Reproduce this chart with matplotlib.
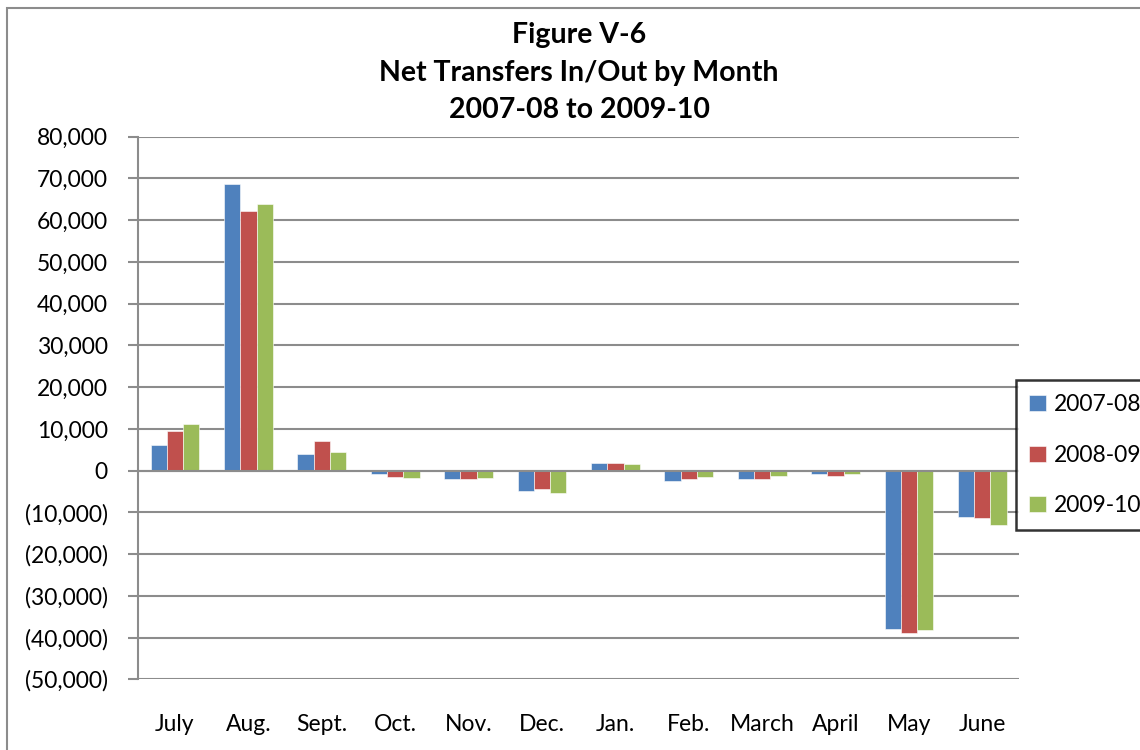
import matplotlib
matplotlib.use('Agg')
import matplotlib.pyplot as plt
import numpy as np
from matplotlib.ticker import FuncFormatter, MultipleLocator
from matplotlib.patches import Rectangle

# 月份和三年的净转入/转出数据
months = ['July', 'Aug.', 'Sept.', 'Oct.', 'Nov.', 'Dec.', 'Jan.', 'Feb.', 'March', 'April', 'May', 'June']
series_names = ['2007-08', '2008-09', '2009-10']
y2007 = [6200, 68600, 4000, -800, -1900, -5000, 1800, -2600, -1900, -900, -38000, -11200]
y2008 = [9400, 62300, 7200, -1500, -1900, -4400, 1800, -1900, -1900, -1200, -39000, -11400]
y2009 = [11100, 63800, 4400, -1800, -1800, -5300, 1700, -1500, -1400, -800, -38300, -13000]
colors = ['#4F81BD', '#C0504D', '#9BBB59']

plt.rcParams['font.family'] = ['Lato', 'DejaVu Sans']

fig = plt.figure(figsize=(11.4, 7.5), dpi=100)
ax = fig.add_axes([0.1213, 0.0943, 0.7726, 0.7234])

x = np.arange(len(months))
w = 0.222
for i, (vals, name) in enumerate(zip([y2007, y2008, y2009], series_names)):
    ax.bar(x + (i - 1) * w, vals, width=w, color=colors[i], label=name,
           edgecolor='white', linewidth=0.4, zorder=3)

ax.set_xlim(-0.5, len(months) - 0.5)
ax.set_ylim(-50000, 80000)
ax.yaxis.set_major_locator(MultipleLocator(10000))


def fmt(v, pos):
    if v == 0:
        return '0'
    if v < 0:
        return '({:,.0f})'.format(-v)
    return '{:,.0f}'.format(v)


ax.yaxis.set_major_formatter(FuncFormatter(fmt))
ax.grid(axis='y', color='#8C8C8C', linewidth=1.5, zorder=0)
ax.axhline(0, color='#8C8C8C', linewidth=1.5, zorder=4)

ax.set_xticks(x)
ax.set_xticklabels(months)
ax.tick_params(axis='x', length=0, pad=25, labelsize=16.5)
ax.tick_params(axis='y', length=7, width=1.5, color='#8C8C8C', labelsize=16.5, pad=15)

for s in ['top', 'right', 'bottom']:
    ax.spines[s].set_visible(False)
ax.spines['left'].set_color('#8C8C8C')
ax.spines['left'].set_linewidth(1.5)

# 标题
fig.text(0.508, 0.903, 'Figure V-6\nNet Transfers In/Out by Month\n2007-08 to 2009-10',
         ha='center', va='center', fontsize=20.5, fontweight='bold', linespacing=1.55)

# 图表外框
fig.add_artist(Rectangle((0.006, -0.02), 1.1, 1.009, transform=fig.transFigure,
                         fill=False, edgecolor='#8C8C8C', linewidth=1.5))

leg = fig.legend(loc='upper left', bbox_to_anchor=(0.891, 0.4933), fontsize=16.5,
                 frameon=True, fancybox=False, handlelength=0.7, handleheight=0.7,
                 labelspacing=1.3, borderpad=0.6, handletextpad=0.35, borderaxespad=0)
leg.get_frame().set_edgecolor('black')
leg.get_frame().set_linewidth(1.8)

fig.savefig('out.png', dpi=100)
